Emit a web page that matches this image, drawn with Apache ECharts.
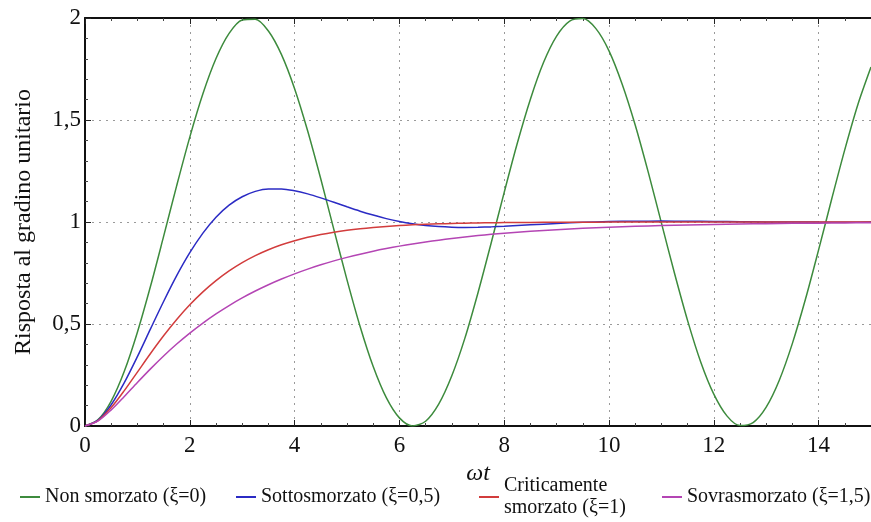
<!DOCTYPE html>
<html><head><meta charset="utf-8">
<script src="https://cdn.jsdelivr.net/npm/echarts@6/dist/echarts.min.js"></script>
<style>html,body{margin:0;padding:0;background:#fff}#c{width:871px;height:522px}</style>
</head><body><div id="c"></div>
<script>
// ωt samples (fine) for the oscillating curve
const greenT = [0,0.25,0.5,0.75,1,1.25,1.5,1.75,2,2.25,2.5,2.75,3,3.25,3.5,3.75,4,4.25,4.5,4.75,5,5.25,5.5,5.75,6,6.25,6.5,6.75,7,7.25,7.5,7.75,8,8.25,8.5,8.75,9,9.25,9.5,9.75,10,10.25,10.5,10.75,11,11.25,11.5,11.75,12,12.25,12.5,12.75,13,13.25,13.5,13.75,14,14.25,14.5,14.75,15];
// Non smorzato (ξ=0)
const greenY = [0,0.0311,0.1224,0.2683,0.4597,0.6847,0.9293,1.1782,1.4161,1.6282,1.8011,1.9243,1.99,1.9941,1.9365,1.8206,1.6536,1.4461,1.2108,0.9624,0.7163,0.4878,0.2913,0.1388,0.0398,0.0006,0.0234,0.107,0.2461,0.4307,0.6534,0.8961,1.1455,1.3862,1.602,1.7815,1.9111,1.9848,1.9972,1.9478,1.8391,1.6767,1.4755,1.2432,0.9956,0.7487,0.5167,0.3139,0.1561,0.0496,0.0022,0.0168,0.0926,0.2246,0.4051,0.6223,0.8633,1.1126,1.355,1.5764,1.7597];
// ωt samples for the damped curves
const dampedT = [0,0.25,0.5,0.75,1,1.25,1.5,1.75,2,2.25,2.5,2.75,3,3.25,3.5,3.75,4,4.25,4.5,4.75,5,5.25,5.5,5.75,6,6.25,6.5,6.75,7,7.25,7.5,7.75,8,8.5,9,9.5,10,10.5,11,11.5,12,12.5,13,13.5,14,14.5,15];
// Sottosmorzato (ξ=0,5)
const blueY = [0,0.0288,0.1044,0.2127,0.3401,0.476,0.6102,0.7368,0.8494,0.9455,1.0234,1.0828,1.1238,1.1502,1.1621,1.1621,1.1532,1.1379,1.1184,1.0969,1.0745,1.0531,1.0339,1.0166,1.0023,0.9911,0.9828,0.9774,0.9744,0.9735,0.9742,0.9761,0.979,0.986,0.9929,0.9985,1.0022,1.004,1.0043,1.0037,1.0026,1.0014,1.0004,0.9998,0.9994,0.9993,0.9994];
// Criticamente smorzato (ξ=1)
const redY = [0,0.0265,0.0902,0.1733,0.2642,0.3554,0.4422,0.5221,0.594,0.6574,0.7127,0.7603,0.8009,0.8352,0.8641,0.8883,0.9084,0.9251,0.9389,0.9503,0.9596,0.9672,0.9734,0.9785,0.9826,0.986,0.9887,0.9909,0.9927,0.9941,0.9953,0.9962,0.997,0.9981,0.9988,0.9992,0.9995,0.9997,0.9998,0.9999,0.9999,1,1,1,1,1,1];
// Sovrasmorzato (ξ=1,5)
const magentaY = [0,0.0247,0.0789,0.1448,0.2134,0.2801,0.3433,0.4018,0.4555,0.5048,0.5497,0.5906,0.6279,0.6616,0.6925,0.7205,0.7459,0.7691,0.7902,0.8093,0.8266,0.8424,0.8568,0.8698,0.8817,0.8924,0.9022,0.9111,0.9192,0.9266,0.9333,0.9394,0.9449,0.9545,0.9624,0.9689,0.9743,0.9788,0.9825,0.9855,0.988,0.9901,0.9918,0.9933,0.9944,0.9954,0.9962];
const seriesNames = ['Non smorzato (ξ=0)','Sottosmorzato (ξ=0,5)','Criticamente\nsmorzato (ξ=1)','Sovrasmorzato (ξ=1,5)'];
const colors = ['#3d8b3d','#2b2bc4','#d23c3c','#b445b4'];

const pair = (xs, ys) => xs.map((x,i)=>[x, ys[i]]);
const font = 'Liberation Serif';
const chart = echarts.init(document.getElementById('c'));
const tickStyle = {show:true, inside:true, length:6, lineStyle:{color:'#222', width:1}};
const minorStyle = {show:true, length:3, lineStyle:{color:'#444', width:1}};
const mk = (i, data) => ({
  name: seriesNames[i], type:'line', data, smooth:0.3, symbol:'none',
  lineStyle:{color:colors[i], width:1.5}, itemStyle:{color:colors[i]}, z: 3
});
const legendLeft = [20, 236, 479, 662];
const legendTop = [486, 486, 475, 486];
const legends = seriesNames.map((n, i) => ({
  data:[n], left: legendLeft[i], top: legendTop[i], itemWidth:20, itemHeight:2, icon:'rect',
  padding:0, textStyle:{fontFamily:font, fontSize:20, color:'#111', lineHeight:22}
}));
chart.setOption({
  animation:false,
  grid:{left:85, right:0, top:18, bottom:96, containLabel:false},
  legend: legends,
  xAxis:[{
    type:'value', min:0, max:15, interval:2,
    name:'ωt', nameLocation:'middle', nameGap:27,
    nameTextStyle:{fontFamily:font, fontSize:24, fontStyle:'italic', color:'#111'},
    axisLine:{show:true, lineStyle:{color:'#111', width:2}},
    axisTick: tickStyle, minorTick: Object.assign({splitNumber:4}, minorStyle),
    axisLabel:{fontFamily:font, fontSize:23, color:'#111', margin:8, showMaxLabel:false},
    splitLine:{show:true, lineStyle:{color:'#9a9a9a', type:[2,5], width:1}}
  },{
    type:'value', min:0, max:15, interval:2, position:'top',
    axisLine:{show:true, lineStyle:{color:'#111', width:2}},
    axisTick: tickStyle, minorTick: Object.assign({splitNumber:4}, minorStyle),
    axisLabel:{show:false}, splitLine:{show:false}
  }],
  yAxis:{
    type:'value', min:0, max:2, interval:0.5,
    name:'Risposta al gradino unitario', nameLocation:'middle', nameGap:49,
    nameTextStyle:{fontFamily:font, fontSize:24, color:'#111'},
    axisLine:{show:true, lineStyle:{color:'#111', width:2}},
    axisTick: tickStyle, minorTick: Object.assign({splitNumber:5}, minorStyle),
    axisLabel:{fontFamily:font, fontSize:23, color:'#111', margin:4,
      formatter: v => String(v).replace('.', ',')},
    splitLine:{show:true, lineStyle:{color:'#9a9a9a', type:[2,5], width:1}}
  },
  series:[
    mk(0, pair(greenT, greenY)),
    mk(1, pair(dampedT, blueY)),
    mk(2, pair(dampedT, redY)),
    mk(3, pair(dampedT, magentaY))
  ]
});
</script></body></html>
